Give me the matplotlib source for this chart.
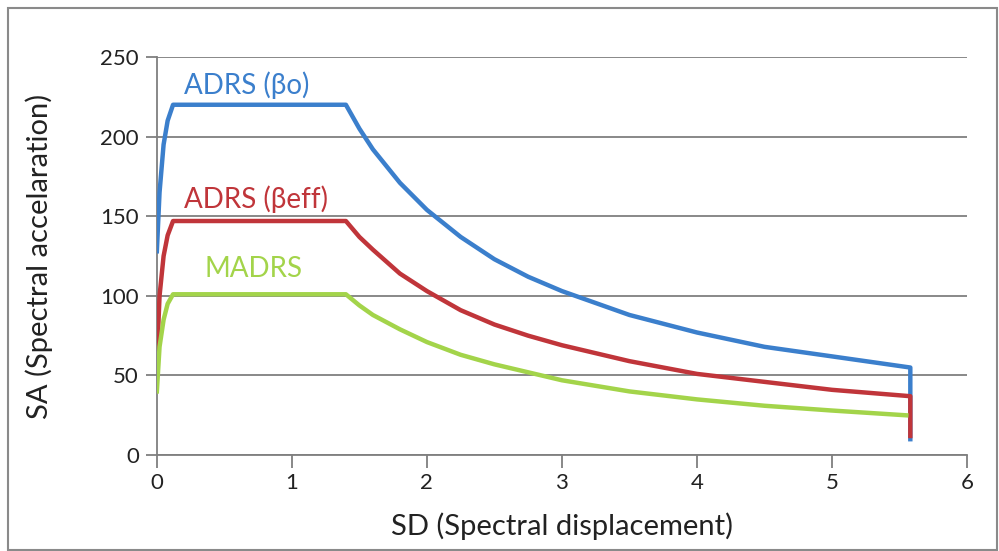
import matplotlib.pyplot as plt
from matplotlib.patches import Rectangle

# curves (SD, SA)
sd_blue = [0, 0.02, 0.05, 0.08, 0.12, 1.4, 1.5, 1.6, 1.8, 2.0, 2.25, 2.5, 2.75, 3.0, 3.5, 4.0, 4.5, 5.0, 5.58, 5.58]
sa_blue = [128, 165, 195, 210, 220, 220, 205, 192, 171, 154, 137, 123, 112, 103, 88, 77, 68, 62, 55, 10]

sd_red = [0, 0.02, 0.05, 0.08, 0.12, 1.4, 1.5, 1.6, 1.8, 2.0, 2.25, 2.5, 2.75, 3.0, 3.5, 4.0, 4.5, 5.0, 5.58, 5.58]
sa_red = [58, 100, 125, 138, 147, 147, 137, 129, 114, 103, 91, 82, 75, 69, 59, 51, 46, 41, 37, 12]

sd_green = [0, 0.02, 0.05, 0.08, 0.12, 1.4, 1.5, 1.6, 1.8, 2.0, 2.25, 2.5, 2.75, 3.0, 3.5, 4.0, 4.5, 5.0, 5.55]
sa_green = [40, 68, 85, 95, 101, 101, 94, 88, 79, 71, 63, 57, 52, 47, 40, 35, 31, 28, 25]

labels = ['ADRS (βo)', 'ADRS (βeff)', 'MADRS']
label_pos = [(0.2, 232), (0.2, 161), (0.35, 117)]
colors = ['#3b7fcc', '#c0353a', '#a3d44a']

plt.rcParams['font.family'] = ['Lato', 'DejaVu Sans']

fig = plt.figure(figsize=(9.99, 5.51), dpi=100)
ax = fig.add_axes([0.157, 0.174, 0.811, 0.7226])

for sd, sa, c in zip([sd_blue, sd_red, sd_green], [sa_blue, sa_red, sa_green], colors):
    ax.plot(sd, sa, color=c, lw=3.2, solid_joinstyle='round', zorder=3)

for (x, y), t, c in zip(label_pos, labels, colors):
    ax.text(x, y, t, color=c, fontsize=20, ha='left', va='center')

ax.set_xlim(0, 6)
ax.set_ylim(0, 250)
ax.set_xticks(range(0, 7))
ax.set_yticks(range(0, 251, 50))
ax.grid(axis='y', color='#7f7f7f', lw=1.3)
ax.set_axisbelow(True)
for s in ['top', 'right']:
    ax.spines[s].set_visible(False)
for s in ['left', 'bottom']:
    ax.spines[s].set_color('#7f7f7f')
    ax.spines[s].set_linewidth(1.3)
ax.tick_params(axis='y', colors='#7f7f7f', width=1.3, length=8, labelsize=16, labelcolor='#222222', pad=5)
ax.tick_params(axis='x', colors='#7f7f7f', width=1.3, length=9, labelsize=16, labelcolor='#222222', pad=4)
ax.set_xlabel('SD (Spectral displacement)', fontsize=21, color='#222222', labelpad=14)
ax.set_ylabel('SA (Spectral accelaration)', fontsize=21, color='#222222', labelpad=34)

fig.patches.append(Rectangle((0.008, 0.002), 0.99, 0.983, transform=fig.transFigure,
                             fill=False, edgecolor='#8a8a8a', lw=1.5))

fig.savefig('out.png', dpi=100)
